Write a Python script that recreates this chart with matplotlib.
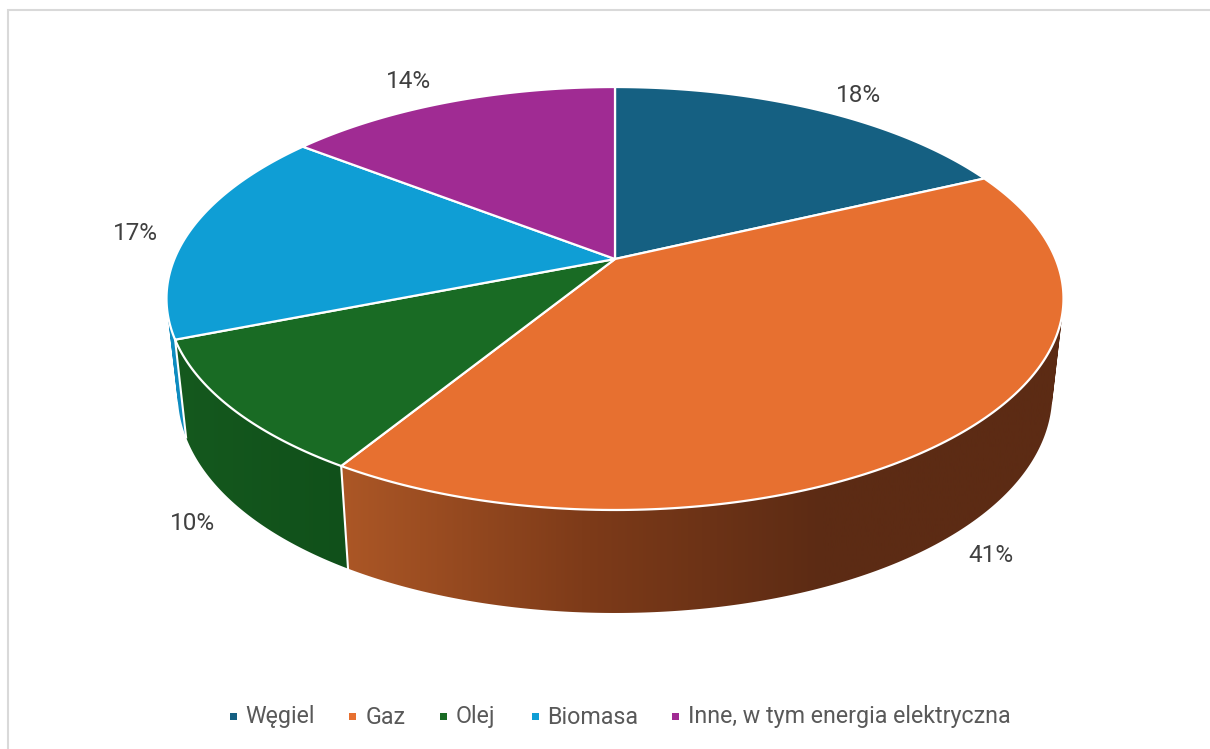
import matplotlib
matplotlib.use("Agg")
import matplotlib.pyplot as plt
import numpy as np
from matplotlib.colors import LinearSegmentedColormap
from matplotlib.patches import PathPatch, Polygon, Rectangle
from matplotlib.path import Path

categories = ["Węgiel", "Gaz", "Olej", "Biomasa", "Inne, w tym energia elektryczna"]
values = [18.0, 40.75, 10.25, 16.51, 14.49]  # labels round them
colors = ["#156082", "#E77030", "#196B24", "#0F9ED5", "#A02B93"]
side_colors = [None, ["#AC5726", "#7E3B19", "#5C2B14", "#5C2B14"], ["#15591E", "#10501A"], ["#0F8CC0", "#0F8CC0"], None]

label_pos = [(858, 95), (991, 555), (193, 523), (135, 233), (409, 82)]
legend_marker_x = [229.5, 349, 439.5, 531.5, 671.5]
legend_text_x = [245, 366, 455.5, 547.5, 688]

# shape of the tilted pie, in pixels
cx, cy = 615, 259
persp = 0.1868
ky = 204.1
kx = 440.6

def top_point(angle):  # angle clockwise from 12 o'clock, degrees
    a = np.radians(angle)
    u, v = np.sin(a), np.cos(a)
    d = 1 + persp * v
    return cx + kx * u / d, cy - ky * v / d

def low_point(angle):  # same point on the lower rim
    x, y = top_point(angle)
    depth = 103 - 0.00018 * (510 - y) ** 2
    return cx + (x - cx) * 0.975, y + depth

def quad_path(quad):  # all quads wound the same way, so the compound path fills as a union
    q = np.array(quad)
    area = np.sum(q[:, 0] * np.roll(q[:, 1], -1) - np.roll(q[:, 0], -1) * q[:, 1])
    if area < 0:
        q = q[::-1]
    return Path(np.vstack([q, q[0]]), closed=True)

fig = plt.figure(figsize=(12.1, 7.49), dpi=100)
ax = fig.add_axes([0, 0, 1, 1])
ax.axis("off")

# frame of the pasted chart, only left and top are in the picture
ax.plot([8, 8, 1210], [749, 10, 10], color="#D9D9D9", lw=1.5, solid_joinstyle="miter")

edges = np.concatenate([[0], np.cumsum(values)]) * 3.6

# sides, back to front, gradient clipped to the ruled surface between the two rims
for i in [3, 2, 1]:
    ang = np.linspace(edges[i], edges[i + 1], 300)
    tx, ty = top_point(ang)
    lx, ly = low_point(ang)
    quads = []
    for j in range(len(ang) - 1):
        quads.append(quad_path([(tx[j], ty[j]), (tx[j + 1], ty[j + 1]), (lx[j + 1], ly[j + 1]), (lx[j], ly[j])]))
    patch = PathPatch(Path.make_compound_path(*quads), facecolor="none", edgecolor="none")
    ax.add_patch(patch)
    cmap = LinearSegmentedColormap.from_list("side", side_colors[i])
    grad = np.linspace(0, 1, 256).reshape(1, -1)
    x0, x1 = min(tx.min(), lx.min()), max(tx.max(), lx.max())
    im = ax.imshow(grad, cmap=cmap, aspect="auto", extent=[x0, x1, 700, 0], zorder=2)
    im.set_clip_path(patch)

# white seams on the side
for e in [edges[2], edges[3]]:
    tx, ty = top_point(e)
    lx, ly = low_point(e)
    ax.plot([tx, lx], [ty, ly], color="white", lw=1.5, zorder=3)

# top face
for i in range(len(values)):
    ang = np.linspace(edges[i], edges[i + 1], 200)
    tx, ty = top_point(ang)
    xs = np.concatenate([[cx], tx])
    ys = np.concatenate([[cy], ty])
    ax.add_patch(Polygon(np.column_stack([xs, ys]), closed=True, facecolor=colors[i],
                         edgecolor="white", lw=1.6, joinstyle="round", zorder=4))

for v, (x, y) in zip(values, label_pos):
    ax.text(x, y, f"{v:.0f}%", ha="center", va="center", fontsize=17.5, color="#404040",
            family="Roboto", zorder=5)

# legend
for i, name in enumerate(categories):
    ax.add_patch(Rectangle((legend_marker_x[i], 712.5), 7, 7, facecolor=colors[i], edgecolor="none"))
    ax.text(legend_text_x[i], 717, name, ha="left", va="center", fontsize=16.75, color="#595959",
            family="Roboto")

ax.set_xlim(0, 1210)
ax.set_ylim(749, 0)
fig.savefig("out.png", dpi=100, facecolor="white")
